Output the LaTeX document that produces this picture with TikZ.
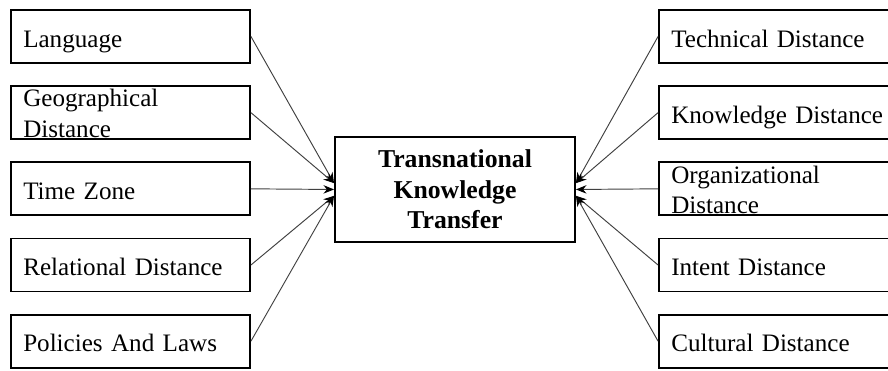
\documentclass[tikz,border=0pt]{standalone}
\usepackage{fontspec}
\setmainfont{Liberation Serif}
\usetikzlibrary{arrows.meta, positioning}

\begin{document}
\begin{tikzpicture}[
  factor/.style={draw, line width=0.9pt, minimum width=3.983cm, minimum height=0.883cm,
    inner xsep=5.6pt, text width=101.7pt, align=left, text height=10pt, text depth=0pt,
    font=\fontsize{11.9}{14.4}\selectfont},
  twoline/.style={text height=4pt, text depth=9.5pt},
  central/.style={draw, line width=0.9pt, minimum width=4cm, minimum height=1.75cm,
    align=center, font=\fontsize{12.2}{14.4}\selectfont\bfseries},
  arrow/.style={->, >={Stealth[length=5pt,width=4pt,color=black]}, draw=black!75, line width=0.45pt},
]
\useasboundingbox (0,0) rectangle (14.8,-6.167);

%% Left column
\node[factor] (lang) at (2.175,-0.608) {Language};
\node[factor, twoline, below=0.355cm of lang] (geo) {Geographical\\Distance};
\node[factor, below=0.355cm of geo] (tzone) {Time Zone};
\node[factor, below=0.355cm of tzone] (reldist) {Relational Distance};
\node[factor, below=0.355cm of reldist] (policy) {Policies And Laws};

%% Right column
\node[factor] (techdist) at (12.975,-0.608) {Technical Distance};
\node[factor, below=0.355cm of techdist] (knowdist) {Knowledge Distance};
\node[factor, twoline, below=0.355cm of knowdist] (orgdist) {Organizational\\Distance};
\node[factor, below=0.355cm of orgdist] (intdist) {Intent Distance};
\node[factor, below=0.355cm of intdist] (culdist) {Cultural Distance};

%% Centre
\node[central] (tkt) at (7.583,-3.158) {Transnational\\Knowledge\\Transfer};

%% Arrows into the centre
\draw[arrow] (lang.east) -- ([yshift=3pt]tkt.west);
\draw[arrow] (geo.east) -- ([yshift=3pt]tkt.west);
\draw[arrow] (tzone.east) -- (tkt.west);
\draw[arrow] (reldist.east) -- ([yshift=-3pt]tkt.west);
\draw[arrow] (policy.east) -- ([yshift=-3pt]tkt.west);

\draw[arrow] (techdist.west) -- ([yshift=3pt]tkt.east);
\draw[arrow] (knowdist.west) -- ([yshift=3pt]tkt.east);
\draw[arrow] (orgdist.west) -- (tkt.east);
\draw[arrow] (intdist.west) -- ([yshift=-3pt]tkt.east);
\draw[arrow] (culdist.west) -- ([yshift=-3pt]tkt.east);

\end{tikzpicture}
\end{document}
